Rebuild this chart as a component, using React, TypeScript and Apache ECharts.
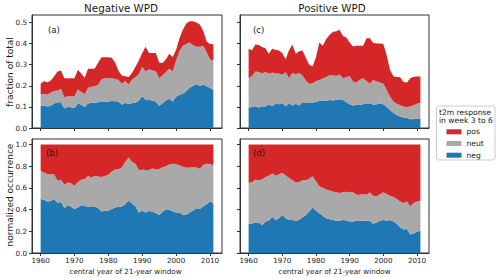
import React, { useEffect, useRef } from "react";
import * as echarts from "echarts";

const years = [
  1960, 1961, 1962, 1963, 1964, 1965, 1966, 1967, 1968, 1969,
  1970, 1971, 1972, 1973, 1974, 1975, 1976, 1977, 1978, 1979,
  1980, 1981, 1982, 1983, 1984, 1985, 1986, 1987, 1988, 1989,
  1990, 1991, 1992, 1993, 1994, 1995, 1996, 1997, 1998, 1999,
  2000, 2001, 2002, 2003, 2004, 2005, 2006, 2007, 2008, 2009,
  2010, 2011,
];

// (a) Negative WPD, fraction of total
const negA = [
  0.104, 0.107, 0.102, 0.105, 0.116, 0.122, 0.122, 0.093, 0.100, 0.098,
  0.095, 0.116, 0.110, 0.100, 0.116, 0.120, 0.121, 0.122, 0.124, 0.125,
  0.126, 0.128, 0.127, 0.125, 0.110, 0.120, 0.112, 0.118, 0.120, 0.130,
  0.152, 0.133, 0.132, 0.130, 0.125, 0.105, 0.117, 0.130, 0.138, 0.126,
  0.148, 0.158, 0.162, 0.175, 0.190, 0.200, 0.207, 0.200, 0.205, 0.198,
  0.190, 0.180,
];
const neutA = [
  0.054, 0.055, 0.056, 0.063, 0.059, 0.056, 0.063, 0.052, 0.050, 0.052,
  0.055, 0.066, 0.062, 0.060, 0.074, 0.075, 0.077, 0.083, 0.108, 0.110,
  0.109, 0.107, 0.105, 0.102, 0.100, 0.102, 0.093, 0.112, 0.120, 0.125,
  0.138, 0.135, 0.146, 0.142, 0.145, 0.132, 0.133, 0.135, 0.142, 0.142,
  0.172, 0.207, 0.228, 0.223, 0.215, 0.192, 0.178, 0.185, 0.185, 0.162,
  0.135, 0.138,
];
const posA = [
  0.050, 0.060, 0.057, 0.057, 0.070, 0.090, 0.087, 0.090, 0.086, 0.086,
  0.086, 0.094, 0.086, 0.078, 0.090, 0.085, 0.084, 0.105, 0.103, 0.100,
  0.100, 0.098, 0.078, 0.043, 0.038, 0.023, 0.037, 0.032, 0.050, 0.065,
  0.065, 0.117, 0.077, 0.083, 0.085, 0.073, 0.058, 0.060, 0.072, 0.068,
  0.050, 0.060, 0.075, 0.097, 0.100, 0.114, 0.115, 0.105, 0.070, 0.050,
  0.073, 0.079,
];

// (b) Negative WPD, normalized occurrence
const negB = [
  0.497, 0.490, 0.475, 0.478, 0.495, 0.462, 0.470, 0.415, 0.440, 0.425,
  0.405, 0.420, 0.440, 0.432, 0.425, 0.430, 0.425, 0.413, 0.382, 0.390,
  0.390, 0.405, 0.420, 0.425, 0.428, 0.450, 0.484, 0.455, 0.430, 0.373,
  0.390, 0.373, 0.388, 0.380, 0.368, 0.351, 0.380, 0.404, 0.398, 0.385,
  0.373, 0.373, 0.351, 0.351, 0.373, 0.390, 0.413, 0.405, 0.429, 0.450,
  0.475, 0.460,
];
const neutB = [
  0.258, 0.250, 0.253, 0.247, 0.227, 0.203, 0.205, 0.215, 0.210, 0.217,
  0.215, 0.235, 0.235, 0.250, 0.285, 0.265, 0.287, 0.292, 0.318, 0.320,
  0.330, 0.345, 0.350, 0.347, 0.362, 0.390, 0.396, 0.385, 0.392, 0.392,
  0.376, 0.391, 0.377, 0.398, 0.404, 0.422, 0.410, 0.396, 0.417, 0.438,
  0.445, 0.435, 0.444, 0.434, 0.415, 0.400, 0.375, 0.370, 0.381, 0.373,
  0.345, 0.345,
];
const posB = [
  0.245, 0.260, 0.272, 0.275, 0.278, 0.335, 0.325, 0.370, 0.350, 0.358,
  0.380, 0.345, 0.325, 0.318, 0.290, 0.305, 0.288, 0.295, 0.300, 0.290,
  0.280, 0.250, 0.230, 0.228, 0.210, 0.160, 0.120, 0.160, 0.178, 0.235,
  0.234, 0.236, 0.235, 0.222, 0.228, 0.227, 0.210, 0.200, 0.185, 0.177,
  0.182, 0.192, 0.205, 0.215, 0.212, 0.210, 0.212, 0.225, 0.190, 0.177,
  0.180, 0.195,
];

// (c) Positive WPD, fraction of total
const negC = [
  0.097, 0.100, 0.103, 0.097, 0.103, 0.102, 0.113, 0.103, 0.115, 0.113,
  0.118, 0.103, 0.117, 0.107, 0.115, 0.107, 0.122, 0.118, 0.118, 0.120,
  0.124, 0.128, 0.130, 0.128, 0.132, 0.130, 0.134, 0.132, 0.133, 0.122,
  0.112, 0.106, 0.110, 0.109, 0.112, 0.116, 0.117, 0.110, 0.112, 0.116,
  0.113, 0.100, 0.085, 0.071, 0.062, 0.055, 0.050, 0.047, 0.042, 0.043,
  0.044, 0.046,
];
const neutC = [
  0.140, 0.145, 0.165, 0.168, 0.155, 0.163, 0.145, 0.160, 0.143, 0.145,
  0.134, 0.162, 0.118, 0.153, 0.139, 0.153, 0.126, 0.107, 0.090, 0.092,
  0.098, 0.098, 0.106, 0.112, 0.118, 0.120, 0.112, 0.121, 0.102, 0.118,
  0.133, 0.114, 0.105, 0.119, 0.123, 0.106, 0.093, 0.118, 0.108, 0.099,
  0.097, 0.080, 0.063, 0.054, 0.053, 0.053, 0.052, 0.051, 0.061, 0.065,
  0.071, 0.074,
];
const posC = [
  0.138, 0.123, 0.127, 0.128, 0.125, 0.113, 0.094, 0.112, 0.112, 0.109,
  0.103, 0.060, 0.133, 0.135, 0.098, 0.103, 0.119, 0.108, 0.092, 0.080,
  0.113, 0.179, 0.154, 0.180, 0.190, 0.205, 0.212, 0.212, 0.200, 0.188,
  0.160, 0.166, 0.175, 0.162, 0.155, 0.203, 0.215, 0.174, 0.180, 0.185,
  0.188, 0.165, 0.127, 0.120, 0.127, 0.132, 0.116, 0.118, 0.132, 0.135,
  0.129, 0.124,
];

// (d) Positive WPD, normalized occurrence
const negD = [
  0.267, 0.272, 0.280, 0.280, 0.258, 0.289, 0.298, 0.335, 0.304, 0.320,
  0.351, 0.320, 0.305, 0.304, 0.298, 0.304, 0.329, 0.351, 0.382, 0.420,
  0.390, 0.366, 0.342, 0.320, 0.311, 0.304, 0.298, 0.298, 0.304, 0.300,
  0.290, 0.290, 0.298, 0.298, 0.298, 0.298, 0.298, 0.270, 0.280, 0.298,
  0.304, 0.298, 0.304, 0.290, 0.270, 0.236, 0.217, 0.220, 0.171, 0.180,
  0.196, 0.205,
];
const neutD = [
  0.379, 0.380, 0.395, 0.390, 0.419, 0.411, 0.414, 0.398, 0.410, 0.404,
  0.388, 0.394, 0.388, 0.366, 0.354, 0.348, 0.342, 0.320, 0.301, 0.288,
  0.270, 0.249, 0.258, 0.265, 0.264, 0.263, 0.262, 0.255, 0.256, 0.265,
  0.270, 0.270, 0.239, 0.239, 0.245, 0.239, 0.260, 0.258, 0.242, 0.242,
  0.255, 0.245, 0.224, 0.226, 0.227, 0.239, 0.243, 0.255, 0.258, 0.280,
  0.279, 0.279,
];
const posD = [
  0.354, 0.348, 0.325, 0.330, 0.323, 0.300, 0.288, 0.267, 0.286, 0.276,
  0.261, 0.286, 0.307, 0.330, 0.348, 0.348, 0.329, 0.329, 0.317, 0.292,
  0.340, 0.385, 0.400, 0.415, 0.425, 0.433, 0.440, 0.447, 0.440, 0.435,
  0.440, 0.440, 0.463, 0.463, 0.457, 0.463, 0.442, 0.472, 0.478, 0.460,
  0.441, 0.457, 0.472, 0.484, 0.503, 0.525, 0.540, 0.525, 0.571, 0.540,
  0.525, 0.516,
];

const xTicks = [1960, 1970, 1980, 1990, 2000, 2010];
const yTicksTop = [0, 0.1, 0.2, 0.3, 0.4, 0.5];
const yTicksBottom = [0, 0.2, 0.4, 0.6, 0.8, 1.0];
const titles = ["Negative WPD", "Positive WPD"];
const panelLabels = ["(a)", "(b)", "(c)", "(d)"];
const legendNames = ["pos", "neut", "neg"];
const legendTitle = ["t2m response", "in week 3 to 6"];
const yLabels = ["fraction of total", "normalized occurrence"];
const xLabel = "central year of 21-year window";

const COLORS: Record<string, string> = { pos: "#d62728", neut: "#a9a9a9", neg: "#1f77b4" };
const FONT = "DejaVu Sans";
const TXT = "#1a1a1a";
const AX = "#333";

const panels = [
  { neg: negA, neut: neutA, pos: posA, top: true, left: true, grid: { left: 32, top: 15, width: 190, height: 113 }, yMax: 0.535, yTicks: yTicksTop, label: { x: 48, y: 29.5 } },
  { neg: negB, neut: neutB, pos: posB, top: false, left: true, grid: { left: 32, top: 139, width: 190, height: 114 }, yMax: 1.05, yTicks: yTicksBottom, label: { x: 46, y: 153 } },
  { neg: negC, neut: neutC, pos: posC, top: true, left: false, grid: { left: 240, top: 15, width: 189, height: 113 }, yMax: 0.535, yTicks: yTicksTop, label: { x: 253, y: 29.5 } },
  { neg: negD, neut: neutD, pos: posD, top: false, left: false, grid: { left: 240, top: 139, width: 189, height: 114 }, yMax: 1.05, yTicks: yTicksBottom, label: { x: 253, y: 153 } },
];

export default function App() {
  const ref = useRef<HTMLDivElement>(null);
  useEffect(() => {
    document.body.style.margin = "0";
    if (!ref.current) return;
    const chart = echarts.init(ref.current, null, { renderer: "svg" });

    const series: any[] = [];
    panels.forEach((p, i) => {
      (["neg", "neut", "pos"] as const).forEach((key) => {
        const arr = (p as any)[key] as number[];
        series.push({
          type: "line",
          name: key,
          xAxisIndex: i,
          yAxisIndex: i,
          stack: "s" + i,
          symbol: "none",
          showSymbol: false,
          silent: true,
          color: COLORS[key],
          itemStyle: { color: COLORS[key] },
          lineStyle: { width: 0, opacity: 0 },
          areaStyle: { color: COLORS[key], opacity: 1 },
          // value first so that ECharts stacks the y dimension
          encode: { x: 1, y: 0 },
          data: years.map((y, k) => [arr[k], y]),
          z: 2,
        });
      });
    });

    const txt = (text: string, x: number, y: number, size: number, align = "center", extra: any = {}) => ({
      type: "text", x, y, z: 100, ...extra,
      style: { text, fill: TXT, fontSize: size, fontFamily: FONT, align, verticalAlign: "middle" },
    });

    const graphic: any[] = [];
    graphic.push(txt(titles[0], 121, 7.5, 10.3));
    graphic.push(txt(titles[1], 332, 7.5, 10.3));
    graphic.push(txt(yLabels[0], 9.5, 72, 9, "center", { rotation: Math.PI / 2 }));
    graphic.push(txt(yLabels[1], 9.5, 195, 9, "center", { rotation: Math.PI / 2 }));
    graphic.push(txt(xLabel, 125.5, 271, 7.2));
    graphic.push(txt(xLabel, 334.5, 271, 7.2));
    panels.forEach((p, i) => graphic.push(txt(panelLabels[i], p.label.x, p.label.y, 8.6, "left")));
    graphic.push({ type: "rect", z: 0, shape: { x: 436.5, y: 106, width: 58.5, height: 54, r: 2 }, style: { fill: "rgba(255,255,255,0.8)", stroke: "#cccccc", lineWidth: 1 } });
    graphic.push(txt(legendTitle[0], 439, 112, 7.6, "left"));
    graphic.push(txt(legendTitle[1], 439, 120.5, 7.6, "left"));

    const option: any = {
      animation: false,
      backgroundColor: "#ffffff",
      textStyle: { fontFamily: FONT },
      grid: panels.map((p) => ({ ...p.grid, show: true, borderColor: AX, borderWidth: 1, backgroundColor: "transparent" })),
      xAxis: panels.map((p, i) => ({
        type: "value",
        gridIndex: i,
        min: 1957.45,
        max: 2013.55,
        z: 5,
        axisLine: { show: true, lineStyle: { color: AX, width: 1 } },
        axisTick: { show: true, length: 3, customValues: xTicks, lineStyle: { color: AX, width: 1 } },
        axisLabel: { show: !p.top, customValues: xTicks, margin: 4, fontSize: 7.2, color: TXT, fontFamily: FONT, formatter: (v: number) => String(v) },
        splitLine: { show: false },
      })),
      yAxis: panels.map((p, i) => ({
        type: "value",
        gridIndex: i,
        min: 0,
        max: p.yMax,
        z: 5,
        axisLine: { show: true, lineStyle: { color: AX, width: 1 } },
        axisTick: { show: true, length: 3, customValues: p.yTicks, lineStyle: { color: AX, width: 1 } },
        axisLabel: { show: p.left, customValues: p.yTicks, margin: 5, fontSize: 7.2, color: TXT, fontFamily: FONT, formatter: (v: number) => v.toFixed(1) },
        splitLine: { show: false },
      })),
      legend: {
        data: legendNames.map((n) => ({ name: n, itemStyle: { color: COLORS[n], borderWidth: 0 } })),
        orient: "vertical",
        left: 446.5,
        top: 127.8,
        padding: 0,
        itemWidth: 15,
        itemHeight: 5,
        itemGap: 3.7,
        icon: "rect",
        selectedMode: false,
        z: 50,
        textStyle: { fontSize: 7.6, lineHeight: 7, color: TXT, fontFamily: FONT },
      },
      graphic,
      series,
    };
    chart.setOption(option);
    return () => chart.dispose();
  }, []);
  return <div ref={ref} style={{ width: 500, height: 278 }} />;
}
